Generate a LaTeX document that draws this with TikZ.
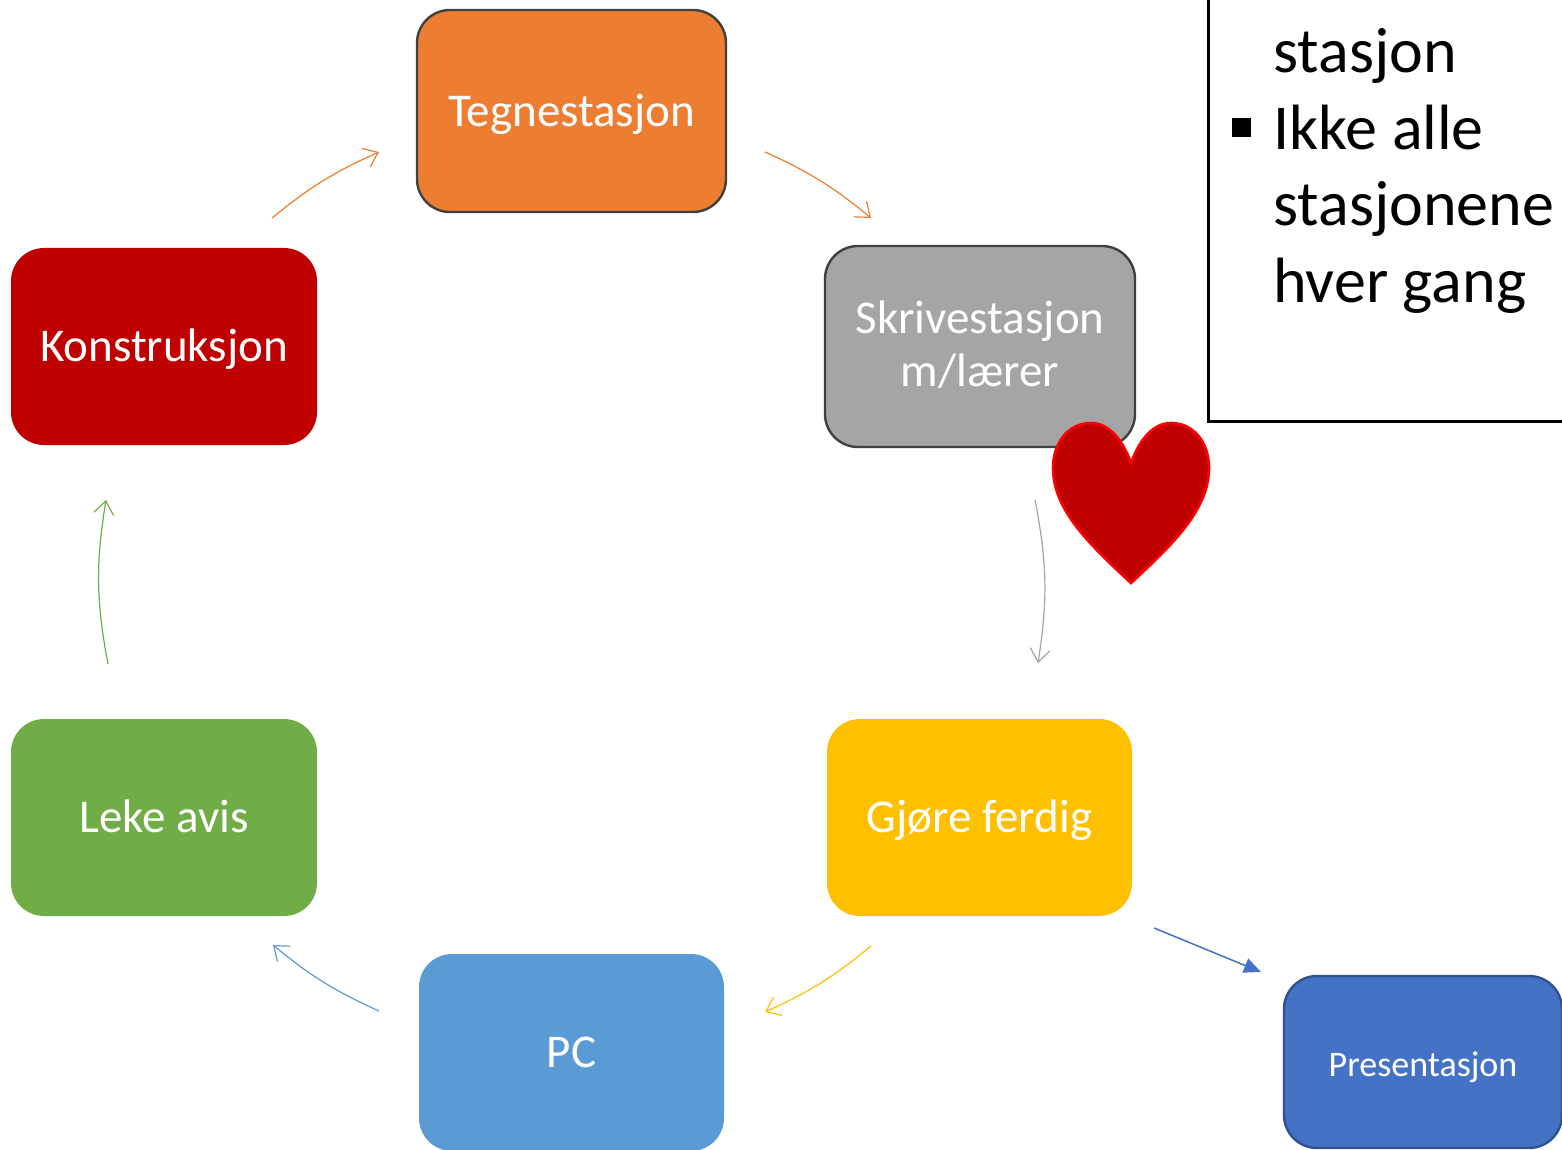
\documentclass[tikz,border=0pt]{standalone}
\usepackage{fontspec}
\setmainfont{Carlito}
\usetikzlibrary{arrows.meta}
\definecolor{corange}{HTML}{ED7D31}
\definecolor{cgray}{HTML}{A5A5A5}
\definecolor{cred}{HTML}{C00000}
\definecolor{cgreen}{HTML}{70AD47}
\definecolor{cyellow}{HTML}{FFC000}
\definecolor{cblue}{HTML}{5B9BD5}
\definecolor{cdblue}{HTML}{4472C4}
\definecolor{cdblueline}{HTML}{2F528F}
\definecolor{heartline}{HTML}{FF0000}
\begin{document}
\begin{tikzpicture}[x=0.5pt,y=-0.5pt,
  stbox/.style={rectangle, rounded corners=16.5pt, minimum width=153pt, minimum height=98.5pt,
    inner sep=0pt, text=white, font=\fontsize{23.5}{26.5}\selectfont, align=center,
    text height=15.1pt, text depth=0pt},
  outlined/.style={draw=black!75, line width=1.2pt},
  cyc/.style={line width=0.6pt, -{Straight Barb[length=6.5pt,width=10pt]}},
]
\useasboundingbox (0,0) rectangle (1562,1150);

% station boxes
\node[stbox, outlined, fill=corange, minimum width=154.5pt, minimum height=101pt] (tegne) at (571.5,111) {Tegnestasjon};
\node[stbox, outlined, fill=cgray, minimum width=155pt, minimum height=100.5pt, text height=39.5pt] (skrive) at (980,346.5)
  {\begin{tabular}[b]{@{}c@{}}Skrivestasjon\\m/lærer\end{tabular}};
\node[stbox, fill=cred] (konstr) at (164,346.5) {Konstruksjon};
\node[stbox, fill=cgreen] (leke) at (164,817.5) {Leke avis};
\node[stbox, fill=cyellow, minimum width=152.5pt] (gjore) at (979.5,817.5) {Gjøre ferdig};
\node[stbox, fill=cblue, minimum width=152.5pt] (pc) at (571.5,1052.5) {PC};
\node[stbox, fill=cdblue, draw=cdblueline, line width=1.2pt, minimum width=139pt, minimum height=86pt,
  font=\fontsize{18}{21}\selectfont, text height=14.6pt] (pres) at (1423,1062) {Presentasjon};

% heart
\filldraw[fill=cred, draw=heartline, line width=1.3pt]
  (1131,463) .. controls (1122,438) and (1108,423) .. (1091,423)
  .. controls (1068,423) and (1053,443) .. (1053,468)
  .. controls (1053,510) and (1090,545) .. (1131,583)
  .. controls (1172,545) and (1209,510) .. (1209,468)
  .. controls (1209,443) and (1194,423) .. (1171,423)
  .. controls (1154,423) and (1140,438) .. (1131,463) -- cycle;

% cycle arrow end points
\coordinate (a1s) at (765,152);  \coordinate (a1e) at (871,218);
\coordinate (a2s) at (1035,500); \coordinate (a2e) at (1038,663);
\coordinate (a3s) at (871,946);  \coordinate (a3e) at (765,1012);
\coordinate (a4s) at (379,1011); \coordinate (a4e) at (273,945);
\coordinate (a5s) at (108,664);  \coordinate (a5e) at (106,500);
\coordinate (a6s) at (272,218);  \coordinate (a6e) at (379,152);
\draw[cyc, corange] (a1s) to[bend left=7.6] (a1e);
\draw[cyc, cgray] (a2s) to[bend left=10] (a2e);
\draw[cyc, cyellow] (a3s) to[bend left=7.6] (a3e);
\draw[cyc, cblue] (a4s) to[bend left=7.6] (a4e);
\draw[cyc, cgreen] (a5s) to[bend left=10] (a5e);
\draw[cyc, corange] (a6s) to[bend left=7.6] (a6e);

% straight arrow to Presentasjon
\coordinate (ps) at (1154,928); \coordinate (pe) at (1261,972);
\draw[cdblue, line width=0.75pt, -{Triangle[length=8.5pt,width=7.5pt]}] (ps) -- (pe);

% text frame
\coordinate (fr1) at (1208,-5); \coordinate (fr2) at (1208,421); \coordinate (fr3) at (1575,421);
\draw[line width=1.5pt] (fr1) -- (fr2) -- (fr3);
\node[anchor=base west, inner sep=0pt, font=\fontsize{32}{38.25}\selectfont] (notes) at (1273,73)
  {\begin{tabular}[t]{@{}l@{}}stasjon\\Ikke alle\\stasjonene\\hver gang\end{tabular}};
\node[fill=black, minimum size=9.5pt, inner sep=0pt] (bullet) at (1241.5,127.5) {};
\end{tikzpicture}
\end{document}
